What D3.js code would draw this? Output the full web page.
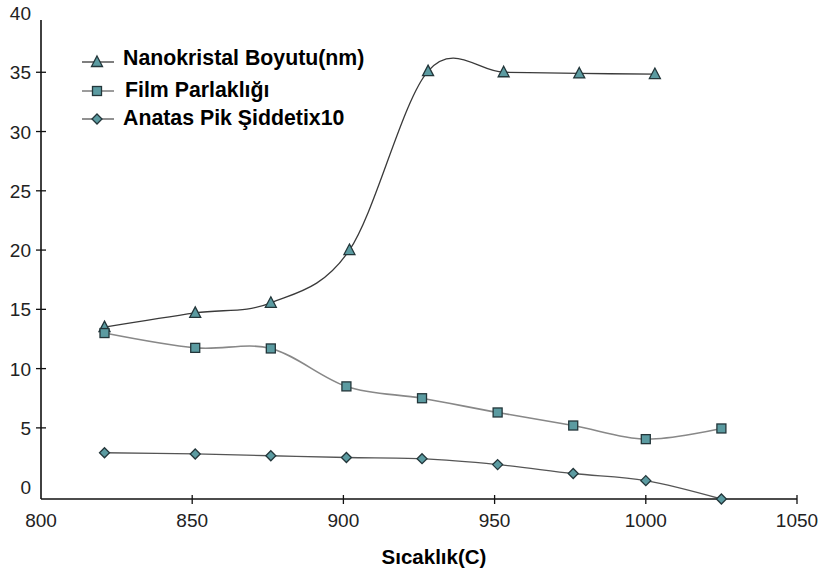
<!DOCTYPE html>
<html>
<head>
<meta charset="utf-8">
<script src="https://cdn.jsdelivr.net/npm/d3@7"></script>
<style>
  html, body { margin: 0; padding: 0; background: #fff; }
  svg { display: block; }
  text { font-family: "Liberation Sans", Arial, sans-serif; }
</style>
</head>
<body>
<svg id="chart" width="824" height="576"></svg>
<script>
// Nanocrystal size series (triangles)
const sizeTemps = [821, 851, 876, 902, 928, 953, 978, 1003];
const sizeValues = [13.5, 14.7, 15.55, 20.0, 35.1, 35.0, 34.9, 34.85];

// Film brightness (squares) and anatase peak intensity x10 (diamonds)
const temps = [821, 851, 876, 901, 926, 951, 976, 1000, 1025];
const brightnessValues = [13.0, 11.75, 11.7, 8.5, 7.5, 6.3, 5.2, 4.05, 4.95];
const anataseValues = [2.9, 2.8, 2.65, 2.5, 2.4, 1.9, 1.15, 0.55, -1.0];

const seriesNames = ["Nanokristal Boyutu(nm)", "Film Parlaklığı", "Anatas Pik Şiddetix10"];
const xTicks = [800, 850, 900, 950, 1000, 1050];
const yTicks = [0, 5, 10, 15, 20, 25, 30, 35, 40];
const xTitle = "Sıcaklık(C)";

const svg = d3.select("#chart");

const x = d3.scaleLinear().domain([800, 1050]).range([41, 797]);
const y = d3.scaleLinear().domain([-1, 40]).range([499, 13]);

const markerFill = "#5b9ba1";
const markerStroke = "#23363a";

// Axes
svg.append("line")
  .attr("x1", x(800)).attr("x2", x(800))
  .attr("y1", 20).attr("y2", y(-1))
  .attr("stroke", "#111").attr("stroke-width", 1.6);
svg.append("line")
  .attr("x1", x(800)).attr("x2", x(1050))
  .attr("y1", y(-1)).attr("y2", y(-1))
  .attr("stroke", "#111").attr("stroke-width", 1.6);

// y ticks crossing the axis
svg.append("g").selectAll("line")
  .data(yTicks.filter(d => d > 0 && d < 40))
  .join("line")
  .attr("x1", x(800) - 5).attr("x2", x(800) + 5)
  .attr("y1", d => y(d)).attr("y2", d => y(d))
  .attr("stroke", "#111").attr("stroke-width", 1.3);

svg.append("g").selectAll("text")
  .data(yTicks)
  .join("text")
  .attr("x", 31)
  .attr("y", d => y(d) + 7)
  .attr("text-anchor", "end")
  .attr("font-size", 19)
  .attr("fill", "#222")
  .text(d => d);

// x ticks
svg.append("g").selectAll("line")
  .data(xTicks.filter(d => d > 800))
  .join("line")
  .attr("x1", d => x(d)).attr("x2", d => x(d))
  .attr("y1", y(-1) - 4).attr("y2", y(-1) + 5)
  .attr("stroke", "#111").attr("stroke-width", 1.3);

svg.append("g").selectAll("text")
  .data(xTicks)
  .join("text")
  .attr("x", d => x(d))
  .attr("y", 527)
  .attr("text-anchor", "middle")
  .attr("font-size", 19)
  .attr("fill", "#222")
  .text(d => d);

svg.append("text")
  .attr("x", 434).attr("y", 564)
  .attr("text-anchor", "middle")
  .attr("font-size", 20.5)
  .attr("font-weight", "bold")
  .attr("fill", "#000")
  .text(xTitle);

// Smoothed lines
const line = d3.line().curve(d3.curveCatmullRom.alpha(0));

const sizePts = sizeTemps.map((t, i) => [x(t), y(sizeValues[i])]);
const brightPts = temps.map((t, i) => [x(t), y(brightnessValues[i])]);
const anatasePts = temps.map((t, i) => [x(t), y(anataseValues[i])]);

svg.append("path").attr("d", line(sizePts))
  .attr("fill", "none").attr("stroke", "#3a3a3a").attr("stroke-width", 1.3);
svg.append("path").attr("d", line(brightPts))
  .attr("fill", "none").attr("stroke", "#888").attr("stroke-width", 1.6);
svg.append("path").attr("d", line(anatasePts))
  .attr("fill", "none").attr("stroke", "#555").attr("stroke-width", 1.3);

// Marker shapes
function triangle(g, cx, cy) {
  g.append("path")
    .attr("d", `M${cx},${cy - 6}L${cx + 5.5},${cy + 4.5}L${cx - 5.5},${cy + 4.5}Z`)
    .attr("fill", markerFill).attr("stroke", markerStroke).attr("stroke-width", 1.3);
}
function square(g, cx, cy) {
  g.append("rect")
    .attr("x", cx - 4.5).attr("y", cy - 4.5).attr("width", 9).attr("height", 9)
    .attr("fill", markerFill).attr("stroke", markerStroke).attr("stroke-width", 1.3);
}
function diamond(g, cx, cy) {
  g.append("path")
    .attr("d", `M${cx},${cy - 5}L${cx + 5},${cy}L${cx},${cy + 5}L${cx - 5},${cy}Z`)
    .attr("fill", markerFill).attr("stroke", markerStroke).attr("stroke-width", 1.3);
}

const marks = svg.append("g");
sizePts.forEach(p => triangle(marks, p[0], p[1]));
brightPts.forEach(p => square(marks, p[0], p[1]));
anatasePts.forEach(p => diamond(marks, p[0], p[1]));

// Legend
const legendRows = [
  { name: seriesNames[0], ly: 62, ty: 65, tx: 123, shape: triangle, stroke: "#3a3a3a" },
  { name: seriesNames[1], ly: 91, ty: 97, tx: 125, shape: square, stroke: "#666" },
  { name: seriesNames[2], ly: 119, ty: 125, tx: 123, shape: diamond, stroke: "#555" }
];
const legend = svg.append("g");
legendRows.forEach(r => {
  legend.append("line")
    .attr("x1", 82).attr("x2", 114).attr("y1", r.ly).attr("y2", r.ly)
    .attr("stroke", r.stroke).attr("stroke-width", 1.3);
  r.shape(legend, 97, r.ly);
  legend.append("text")
    .attr("x", r.tx).attr("y", r.ty)
    .attr("font-size", 21.3)
    .attr("font-weight", "bold")
    .attr("fill", "#000")
    .text(r.name);
});
</script>
</body>
</html>
